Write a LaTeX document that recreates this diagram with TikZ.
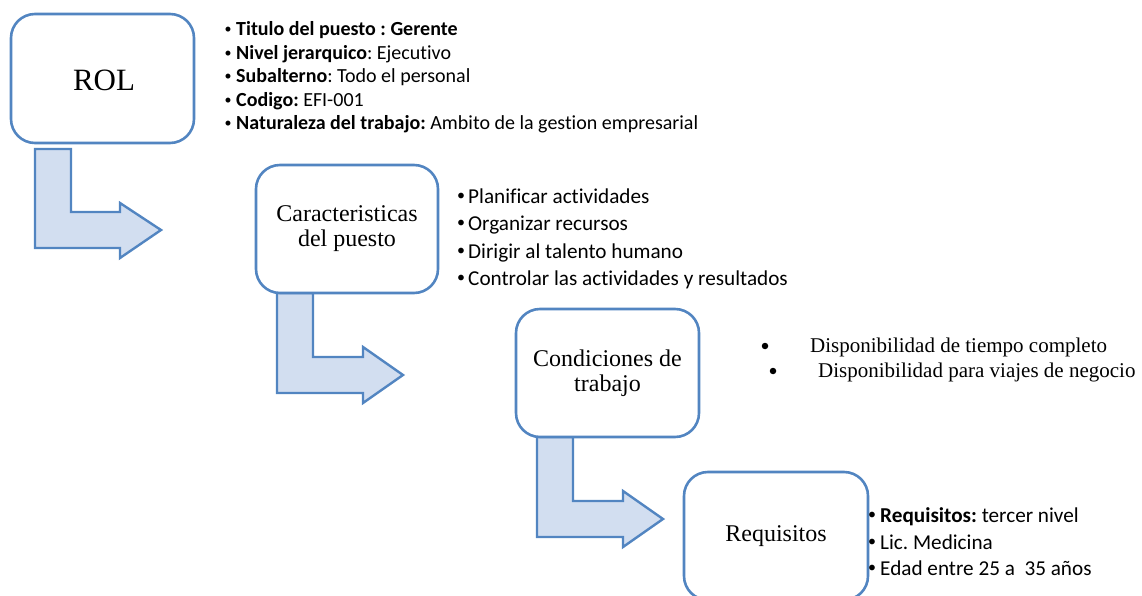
\documentclass[tikz,border=0pt]{standalone}
\usepackage{fontspec}
\setmainfont{Liberation Serif}
\newfontfamily\calibfont[Ligatures={NoCommon}]{Carlito}
\definecolor{obl}{RGB}{82,133,193}
\definecolor{ofill}{RGB}{210,222,240}
\newcommand{\cbul}[2]{\llap{{\fontsize{#1}{#1}\selectfont\raisebox{0.16em}{•}}\hspace{#2}}}
\frenchspacing
\begin{document}
\begin{tikzpicture}[x=1pt,y=-1pt,
  boxstyle/.style={draw=obl, line width=2.6pt, fill=white, rounded corners=24pt,
    inner sep=0pt, align=center, font=\fontsize{24}{25}\selectfont},
  bentarrow/.style={draw=obl, line width=2.4pt, fill=ofill, line join=miter},
  calsmall/.style={anchor=base west, inner sep=0pt, font=\calibfont\fontsize{20}{20}\selectfont},
  calitem/.style={anchor=base west, inner sep=0pt, font=\calibfont\fontsize{21.2}{21}\selectfont},
  timesitem/.style={anchor=base west, inner sep=0pt, font=\fontsize{21}{21}\selectfont},
  dotmark/.style={circle, fill=black, inner sep=0pt, minimum size=6.5pt}
]
\useasboundingbox (0,0) rectangle (1142,596);

% bent arrows (drawn first, boxes cover their tops)
\draw[bentarrow] (35,149) -- (71,149) -- (71,212) -- (120,212) -- (120,203) -- (161,230)
  -- (120,258) -- (120,248) -- (35,248) -- cycle;
\draw[bentarrow] (277,293) -- (313,293) -- (313,357) -- (363,357) -- (363,347) -- (403,375)
  -- (363,403) -- (363,393) -- (277,393) -- cycle;
\draw[bentarrow] (537,437) -- (573,437) -- (573,501) -- (623,501) -- (623,491) -- (663,519)
  -- (623,547) -- (623,537) -- (537,537) -- cycle;

% boxes
\node[boxstyle, minimum width=183pt, minimum height=129pt] (rol) at (102.5,78.5) {};
\node[font=\fontsize{31}{31}\selectfont, inner sep=0pt] (roltext) at (104,80) {ROL};
\node[boxstyle, minimum width=182pt, minimum height=128pt] (car) at (347,229)
  {Caracteristicas\\del puesto};
\node[boxstyle, minimum width=183pt, minimum height=128pt] (cond) at (607.5,373)
  {Condiciones de\\trabajo};
\node[boxstyle, minimum width=184pt, minimum height=128pt] (req) at (776,536) {Requisitos};

% ROL list
\node[calsmall] (r1) at (236,36) {\cbul{14}{4.5pt}\textbf{Titulo del puesto : Gerente}};
\node[calsmall] (r2) at (236,59.5) {\cbul{14}{4.5pt}\textbf{Nivel jerarquico}: Ejecutivo};
\node[calsmall] (r3) at (236,83) {\cbul{14}{4.5pt}\textbf{Subalterno}: Todo el personal};
\node[calsmall] (r4) at (236,106.5) {\cbul{14}{4.5pt}\textbf{Codigo:} EFI-001};
\node[calsmall] (r5) at (236,130) {\cbul{14}{4.5pt}\textbf{Naturaleza del trabajo:} Ambito de la gestion empresarial};

% Caracteristicas list
\node[calitem] (c1) at (468,203) {\cbul{16}{3pt}Planificar actividades};
\node[calitem] (c2) at (468,230.5) {\cbul{16}{3pt}Organizar recursos};
\node[calitem] (c3) at (468,258) {\cbul{16}{3pt}Dirigir al talento humano};
\node[calitem] (c4) at (468,285) {\cbul{16}{3pt}Controlar las actividades y resultados};

% Condiciones list
\node[dotmark] (d1) at (765,346) {};
\node[timesitem] (t1) at (810,352) {Disponibilidad de tiempo completo};
\node[dotmark] (d2) at (773,371) {};
\node[timesitem] (t2) at (818,377) {Disponibilidad para viajes de negocio};

% Requisitos list
\node[calitem] (q1) at (880,522) {\cbul{16}{4pt}\textbf{Requisitos:} tercer nivel};
\node[calitem] (q2) at (880,549) {\cbul{16}{4pt}Lic. Medicina};
\node[calitem] (q3) at (880,575) {\cbul{16}{4pt}Edad entre 25 a~ 35 años};
\end{tikzpicture}
\end{document}
